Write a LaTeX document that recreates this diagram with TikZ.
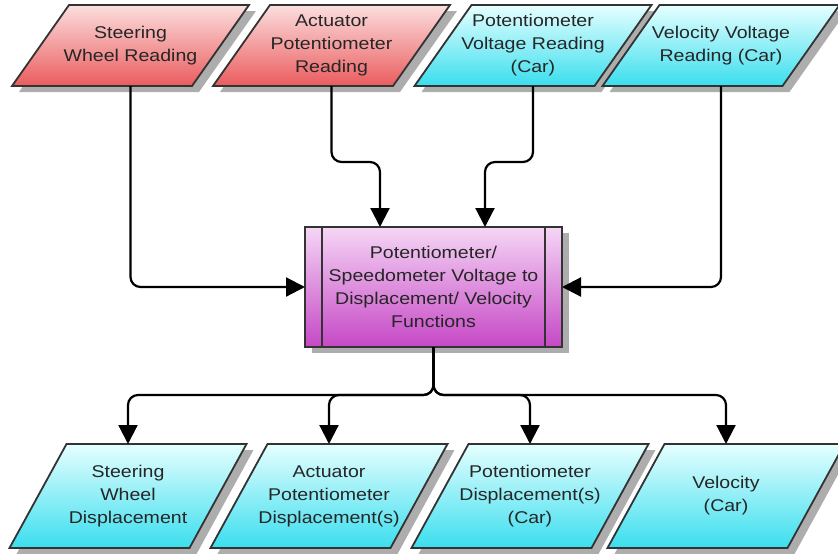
\documentclass[tikz,border=0pt]{standalone}
\usepackage{fontspec}
\setmainfont[FakeStretch=1.15]{Liberation Sans}
\usetikzlibrary{arrows.meta, calc, shadows, backgrounds}

\definecolor{redtop}{RGB}{252,222,222}
\definecolor{redbot}{RGB}{234,92,94}
\definecolor{cyantop}{RGB}{230,255,255}
\definecolor{cyanbot}{RGB}{58,222,238}
\definecolor{purptop}{RGB}{245,214,245}
\definecolor{purpbot}{RGB}{198,72,198}

\begin{document}
\begin{tikzpicture}[x=1pt, y=-1pt, >={Triangle[width=19pt,length=19pt]},
  font=\fontsize{17}{23}\selectfont,
  io/.style={align=center, text=black!85, outer sep=0pt, minimum width=180pt},
  inp/.style={io, minimum height=81pt},
  outp/.style={io, minimum height=104pt},
  edge/.style={draw=black!80, line width=1.8pt, line join=miter,
    drop shadow={shadow xshift=7pt, shadow yshift=-6pt, fill=black!32, opacity=1}},
  redfill/.style={top color=redtop, bottom color=redbot},
  cyanfill/.style={top color=cyantop, bottom color=cyanbot},
  func/.style={edge, align=center, text=black!85, outer sep=0pt,
    minimum width=257pt, minimum height=120pt, top color=purptop, bottom color=purpbot},
  arr/.style={->, line width=2.2pt, rounded corners=10pt}]

\useasboundingbox (0,0) rectangle (838,554);

%% ===================== readings =====================
\node[inp] (swr) at (130.5,45.5) {Steering\\Wheel Reading};
\node[inp] (apr) at (331.5,45.5) {Actuator\\Potentiometer\\Reading};
\node[inp] (pvr) at (533,45.5)   {Potentiometer\\Voltage Reading\\(Car)};
\node[inp] (vvr) at (721,45.5)   {Velocity Voltage\\Reading (Car)};

%% ===================== outputs =====================
\node[outp] (swd) at (128,496) {Steering\\Wheel\\Displacement};
\node[outp] (apd) at (329,496) {Actuator\\Potentiometer\\Displacement(s)};
\node[outp] (ppd) at (530,496) {Potentiometer\\Displacement(s)\\(Car)};
\node[outp] (vel) at (726,496) {Velocity\\(Car)};

%% parallelograms behind the texts
\begin{scope}[on background layer]
\foreach \n/\c in {swr/redfill, apr/redfill, pvr/cyanfill, vvr/cyanfill,
                   swd/cyanfill, apd/cyanfill, ppd/cyanfill, vel/cyanfill}
  \path[edge, \c] ($(\n.south west)+(-28.5,0)$) -- ($(\n.south east)+(-28.5,0)$)
    -- ($(\n.north east)+(28.5,0)$) -- ($(\n.north west)+(28.5,0)$) -- cycle;
\end{scope}

%% ===================== conversion functions =====================
\node[func] (fn) at (433.5,287)
  {Potentiometer/\\Speedometer Voltage to\\Displacement/ Velocity\\Functions};
\draw[line width=1.8pt, black!80] ($(fn.north west)+(17,0)$) -- ($(fn.south west)+(17,0)$);
\draw[line width=1.8pt, black!80] ($(fn.north east)+(-17,0)$) -- ($(fn.south east)+(-17,0)$);

\coordinate (k2) at (380,162);
\coordinate (k3) at (485,162);
\draw[arr] (swr.south) |- (fn.west);
\draw[arr] (apr.south) |- (k2) -- (k2 |- fn.north);
\draw[arr] (pvr.south) |- (k3) -- (k3 |- fn.north);
\draw[arr] (vvr.south) |- (fn.east);

\coordinate (bus) at (433.5,395);
\foreach \t in {swd,apd,ppd,vel}
  \draw[arr] (fn.south) -- (bus) -| (\t.north);

\end{tikzpicture}
\end{document}
